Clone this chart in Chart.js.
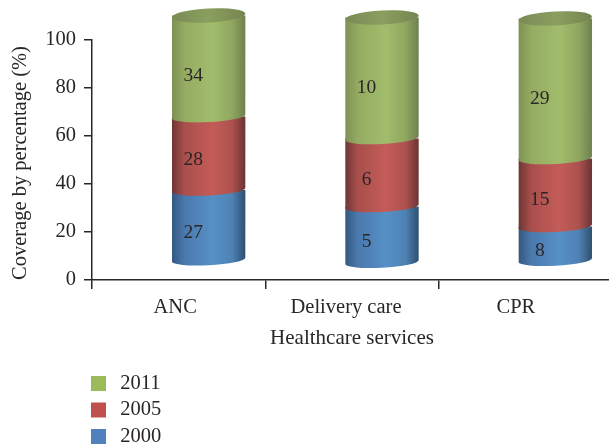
<!DOCTYPE html>
<html>
<head>
<meta charset="utf-8">
<title>Coverage by percentage</title>
<script src="https://cdn.jsdelivr.net/npm/chart.js@4/dist/chart.umd.min.js"></script>
<style>
html, body { margin: 0; padding: 0; background: #fff; overflow: hidden; }
canvas { display: block; }
</style>
</head>
<body>
<canvas id="coverageChart" width="612" height="447"></canvas>
<script>
// categories and series
const services = ["ANC", "Delivery care", "CPR"];
const years = ["2000", "2005", "2011"];

// segment heights (%)
const height2000 = [28.8, 23.1, 14.1];
const height2005 = [30.0, 27.8, 27.8];
const height2011 = [41.3, 49.4, 57.2];

// numbers printed on the segments
const printed2000 = [27, 5, 8];
const printed2005 = [28, 6, 15];
const printed2011 = [34, 10, 29];

const yTicks = [0, 20, 40, 60, 80, 100];

const fontFamily = "'Liberation Serif', serif";
const inkColor = "#2a2627";

const seriesColors = ["#4f81bd", "#c0504d", "#9bbb59"];
const shades = [
    ["#35587f", "#4a79ad", "#5690c6", "#4e82b4", "#2f4f70"],
    ["#6e3634", "#a94f4c", "#c45c58", "#ad514e", "#6b3433"],
    ["#7e9155", "#94ab61", "#a1bd6c", "#8fa65f", "#6f8050"]
];
const capShade = ["#7a8b55", "#8a9f5f", "#758551"];
const labelDrop = [8, 7, 10];

// the 3D look: bars sit up and to the right of their category
const depthX = 30;
const depthY = [-19.5, -17, -19];
const stretch = 1.02;
const tilt = -3 * Math.PI / 180;
const labelShift = [-3.5, -6, -9.5];

function sideGradient(ctx, cx, rx, stops) {
    const g = ctx.createLinearGradient(cx - rx, 0, cx + rx, 0);
    const at = stops.length === 5 ? [0, 0.17, 0.55, 0.82, 1] : [0, 0.5, 1];
    stops.forEach((c, i) => g.addColorStop(at[i], c));
    return g;
}

const cylinders = {
    id: "cylinders",
    afterLayout(chart) {
        // legend sits under the x title, and the tick labels are not centred in the source
        const legend = chart.legend;
        legend.left = 85;
        legend.right = 300;
        legend.top = 367.25;
        legend.bottom = 500;
        const items = chart.scales.x.getLabelItems();
        items.forEach((item, i) => { item.options.translation[0] += labelShift[i]; });
    },
    beforeDatasetDraw() {
        return false;
    },
    beforeDatasetsDraw(chart) {
        const ctx = chart.ctx;
        const base = chart.scales.y.getPixelForValue(0);
        const project = (py, i) => base + depthY[i] - (base - py) * stretch;
        const last = chart.data.datasets.length - 1;

        chart.data.datasets.forEach((ds, d) => {
            chart.getDatasetMeta(d).data.forEach((bar, i) => {
                const cx = bar.x + depthX;
                const rx = bar.width / 2;
                const yTop = project(bar.y, i);
                const yBot = project(bar.base, i);

                ctx.beginPath();
                ctx.ellipse(cx, yBot, rx, 5.5, tilt, 0, Math.PI);
                ctx.lineTo(cx - rx, yTop);
                ctx.lineTo(cx + rx, yTop);
                ctx.closePath();
                ctx.fillStyle = sideGradient(ctx, cx, rx, shades[d]);
                ctx.fill();

                if (d === last) {
                    ctx.beginPath();
                    ctx.ellipse(cx, yTop, rx, 7, tilt, 0, Math.PI * 2);
                    ctx.fillStyle = sideGradient(ctx, cx, rx, capShade);
                    ctx.fill();
                }
            });
        });

        ctx.fillStyle = inkColor;
        ctx.font = "19.5px " + fontFamily;
        ctx.textAlign = "center";
        ctx.textBaseline = "middle";
        chart.data.datasets.forEach((ds, d) => {
            chart.getDatasetMeta(d).data.forEach((bar, i) => {
                const mid = (project(bar.y, i) + project(bar.base, i)) / 2;
                ctx.fillText(ds.printed[i], bar.x + 14.5, mid + labelDrop[d]);
            });
        });
    }
};

const heights = [height2000, height2005, height2011];
const printed = [printed2000, printed2005, printed2011];

new Chart(document.getElementById("coverageChart"), {
    type: "bar",
    plugins: [cylinders],
    data: {
        labels: services,
        datasets: years.map((year, d) => ({
            label: year,
            data: heights[d],
            printed: printed[d],
            backgroundColor: seriesColors[d],
            borderWidth: 0
        }))
    },
    options: {
        responsive: false,
        animation: false,
        layout: { padding: { left: 0, right: 0, top: 40, bottom: 96 } },
        datasets: { bar: { categoryPercentage: 1, barPercentage: 0.4235 } },
        plugins: {
            tooltip: { enabled: false },
            legend: {
                position: "chartArea",
                align: "start",
                reverse: true,
                labels: {
                    boxWidth: 15,
                    boxHeight: 15,
                    padding: 6,
                    color: inkColor,
                    font: { family: fontFamily, size: 20.5 },
                    generateLabels(chart) {
                        // thin space widens the gap after the swatch
                        return Chart.defaults.plugins.legend.labels.generateLabels(chart)
                            .map(item => ({ ...item, text: "\u2009" + item.text }));
                    }
                }
            }
        },
        scales: {
            x: {
                stacked: true,
                afterFit(scale) { scale.height = 71; },
                border: { color: inkColor, width: 1.5 },
                grid: { drawOnChartArea: false, tickLength: 9, color: inkColor, lineWidth: 1.5 },
                ticks: { color: inkColor, padding: 6, maxRotation: 0, font: { family: fontFamily, size: 20.5 } },
                title: {
                    display: true,
                    text: "Healthcare services",
                    color: inkColor,
                    font: { family: fontFamily, size: 21 },
                    padding: { top: 0, bottom: 0 }
                }
            },
            y: {
                stacked: true,
                min: 0,
                max: 100,
                afterFit(scale) { scale.width = 92; },
                afterBuildTicks(scale) { scale.ticks = yTicks.map(v => ({ value: v })); },
                border: { color: inkColor, width: 1.5 },
                grid: { drawOnChartArea: false, tickLength: 8, color: inkColor, lineWidth: 1.5 },
                ticks: { color: inkColor, padding: 8, font: { family: fontFamily, size: 20.5 } },
                title: {
                    display: true,
                    align: "start",
                    text: "Coverage by percentage (%)",
                    color: inkColor,
                    font: { family: fontFamily, size: 20.5 },
                    padding: { top: 8, bottom: 0 }
                }
            }
        }
    }
});
</script>
</body>
</html>
